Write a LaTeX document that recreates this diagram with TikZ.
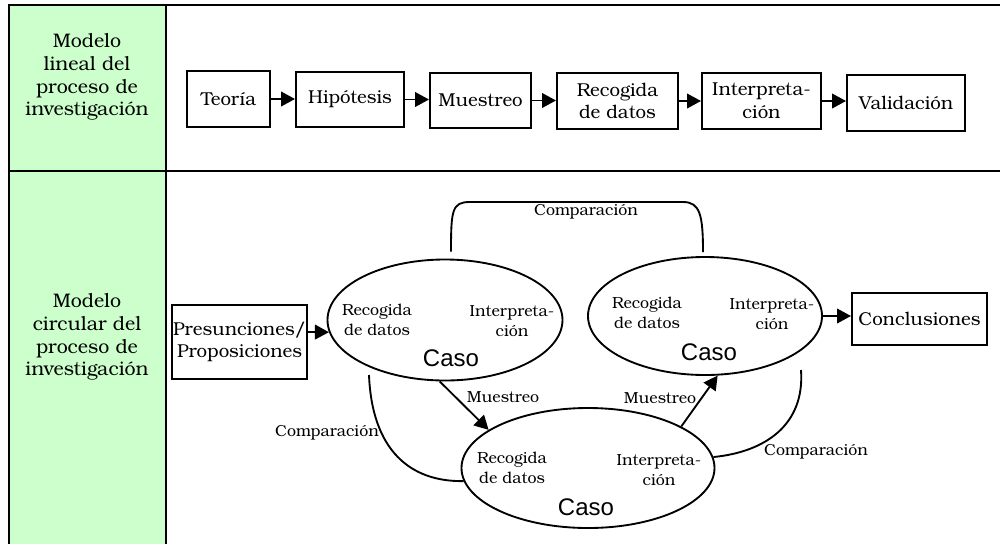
\documentclass[tikz,border=0pt]{standalone}
\usepackage{fontspec}
\setmainfont{TeX Gyre Bonum}
\newfontfamily\casofont{Liberation Sans}
\usetikzlibrary{shapes.geometric,arrows.meta,calc}
\definecolor{rowgreen}{RGB}{204,255,204}

\begin{document}
\begin{tikzpicture}[x=0.75pt,y=-0.75pt,
  rule/.style={line width=1.7pt},
  boxsize/.style 2 args={minimum width=#1*0.75pt,minimum height=#2*0.75pt},
  box/.style={draw,line width=1.5pt,align=center,inner sep=0pt,font=\fontsize{14}{17}\selectfont},
  casebox/.style={draw,ellipse,line width=1.4pt,inner sep=0pt},
  intext/.style={align=center,font=\fontsize{12}{15}\selectfont},
  caso/.style={font=\casofont\fontsize{18}{21}\selectfont},
  lbl/.style={font=\fontsize{12}{14}\selectfont},
  arr/.style={line width=1.4pt,-{Triangle[length=10.5pt,width=11pt]}},
  link/.style={line width=1.4pt},
  head/.style={align=center,font=\fontsize{14.7}{17}\selectfont}]

\useasboundingbox (0,0) rectangle (1000,544);

% table: green heading column and rules
\fill[rowgreen] (9,5) rectangle (166,544);
\draw[rule] (9,544) -- (9,5) -- (1000,5);
\draw[rule] (166,5) -- (166,544);
\draw[rule] (9,171) -- (1000,171);

\node[head] (m1) at (87,77) {Modelo\\lineal del\\proceso de\\investigación};
\node[head] (m2) at (87,337) {Modelo\\circular del\\proceso de\\investigación};

% linear model
\node[box,boxsize={83}{56}]  (teo) at (228.5,99)  {Teoría};
\node[box,boxsize={108}{55}] (hip) at (350,99.5)  {Hipótesis};
\node[box,boxsize={101}{55}] (mue) at (480.5,100.5) {Muestreo};
\node[box,boxsize={121}{56}] (rec) at (617.5,101) {Recogida\\de datos};
\node[box,boxsize={119}{56}] (int) at (761.5,101) {Interpreta-\\ción};
\node[box,boxsize={118}{56}] (val) at (906,103)   {Validación};

\draw[arr] (teo.east) -- (teo.east -| hip.west);
\draw[arr] (hip.east) -- (hip.east -| mue.west);
\draw[arr] (mue.east) -- (mue.east -| rec.west);
\draw[arr] (rec.east) -- (rec.east -| int.west);
\draw[arr] (int.east) -- (int.east -| val.west);

% circular model
\node[box,boxsize={135}{74}] (pres) at (239.5,342) {Presunciones/\\Proposiciones};
\node[box,boxsize={135}{52}] (conc) at (919.5,319) {Conclusiones};

\node[casebox,boxsize={235}{121}] (e1) at (445,320) {};
\node[casebox,boxsize={234}{118}] (e2) at (705,316) {};
\node[casebox,boxsize={253}{120}] (e3) at (588,468) {};

\node[intext] (r1) at (377,320) {Recogida\\de datos};
\node[intext] (i1) at (512,321) {Interpreta-\\ción};
\node[caso]   (k1) at (451,358) {Caso};
\node[intext] (r2) at (647,313) {Recogida\\de datos};
\node[intext] (i2) at (772,314) {Interpreta-\\ción};
\node[caso]   (k2) at (709,352) {Caso};
\node[intext] (r3) at (512,468) {Recogida\\de datos};
\node[intext] (i3) at (659,470) {Interpreta-\\ción};
\node[caso]   (k3) at (586,507) {Caso};

\draw[arr] ([yshift=7.5pt]pres.east) -- (e1.186);
\draw[arr] (e2.east) -- (e2.east -| conc.west);
\draw[arr] (e1.265) -- (e3.159);
\draw[arr] (e3.24) -- (e2.282);

\node[lbl] (mu1) at (503,397) {Muestreo};
\node[lbl] (mu2) at (660,398) {Muestreo};
\node[lbl] (co1) at (586,212) {Comparación};
\node[lbl] (co2) at (327,433) {Comparación};
\node[lbl] (co3) at (816,452) {Comparación};

% comparison links between cases
\coordinate (t1) at ($(e1.north)+(6,-7)$);
\coordinate (t2) at ($(e2.north)+(-2,-4)$);
\draw[link] (t1) .. controls (451,210) and (452,202) .. (470,202)
  -- (683,202) .. controls (700,202) and (703,215) .. (t2);

\coordinate (l1) at (369,375);
\draw[link] (l1) .. controls (372,450) and (410,482) .. (e3.186);

\coordinate (q1) at (801,370);
\draw[link] (e3.5) .. controls (765,452) and (805,425) .. (q1);

\end{tikzpicture}
\end{document}
